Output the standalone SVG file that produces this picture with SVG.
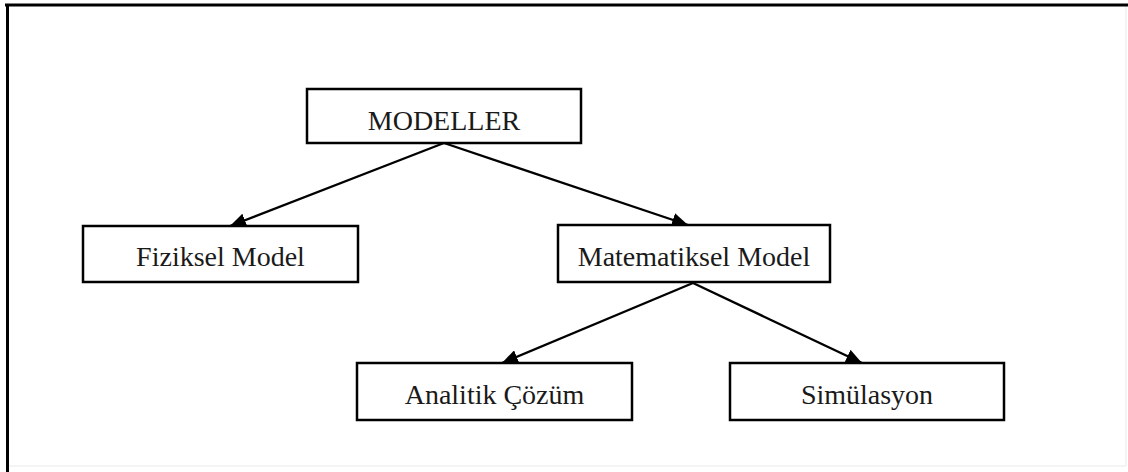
<svg xmlns="http://www.w3.org/2000/svg" width="1128" height="472" viewBox="0 0 1128 472">
  <style>
    .box { fill: #ffffff; stroke: #000000; stroke-width: 2.5; }
    .label { font-family: "Liberation Serif", "Times New Roman", serif; font-size: 28px; fill: #1a1a1a; text-anchor: middle; }
    .edge { stroke: #000000; stroke-width: 2.3; fill: none; marker-end: url(#arrow); }
  </style>
  <defs>
    <marker id="arrow" viewBox="0 0 16 14" refX="16" refY="7" markerWidth="16" markerHeight="14" markerUnits="userSpaceOnUse" orient="auto">
      <path d="M0,0 L16,7 L0,14 Z" fill="#000000"/>
    </marker>
  </defs>

  <rect x="0" y="0" width="1128" height="472" fill="#ffffff"/>

  <!-- frame: heavy top and left rules, faint right and bottom -->
  <g id="frame">
    <line x1="1126" y1="6" x2="1126" y2="466" stroke="#f0f0f0" stroke-width="1.5"/>
    <line x1="7" y1="466" x2="1126" y2="466" stroke="#f0f0f0" stroke-width="1.5"/>
    <line x1="5" y1="5" x2="1128" y2="5" stroke="#000000" stroke-width="3"/>
    <line x1="7.5" y1="4" x2="7.5" y2="472" stroke="#000000" stroke-width="3"/>
  </g>

  <g id="connectors">
    <line class="edge" x1="444" y1="143" x2="230" y2="226"/>
    <line class="edge" x1="444" y1="143" x2="688" y2="225"/>
    <line class="edge" x1="693" y1="283" x2="502" y2="363"/>
    <line class="edge" x1="693" y1="283" x2="862" y2="363"/>
  </g>

  <g id="modeller">
    <rect class="box" x="307" y="89" width="274" height="54"/>
    <text class="label" x="444" y="130">MODELLER</text>
  </g>

  <g id="fiziksel-model">
    <rect class="box" x="83" y="226" width="275" height="56"/>
    <text class="label" x="220.5" y="266">Fiziksel Model</text>
  </g>

  <g id="matematiksel-model">
    <rect class="box" x="558" y="225" width="272" height="57"/>
    <text class="label" x="694" y="266">Matematiksel Model</text>
  </g>

  <g id="analitik-cozum">
    <rect class="box" x="357" y="363" width="275" height="57"/>
    <text class="label" x="494.5" y="404">Analitik Çözüm</text>
  </g>

  <g id="simulasyon">
    <rect class="box" x="730" y="363" width="274" height="57"/>
    <text class="label" x="867" y="404">Simülasyon</text>
  </g>
</svg>
